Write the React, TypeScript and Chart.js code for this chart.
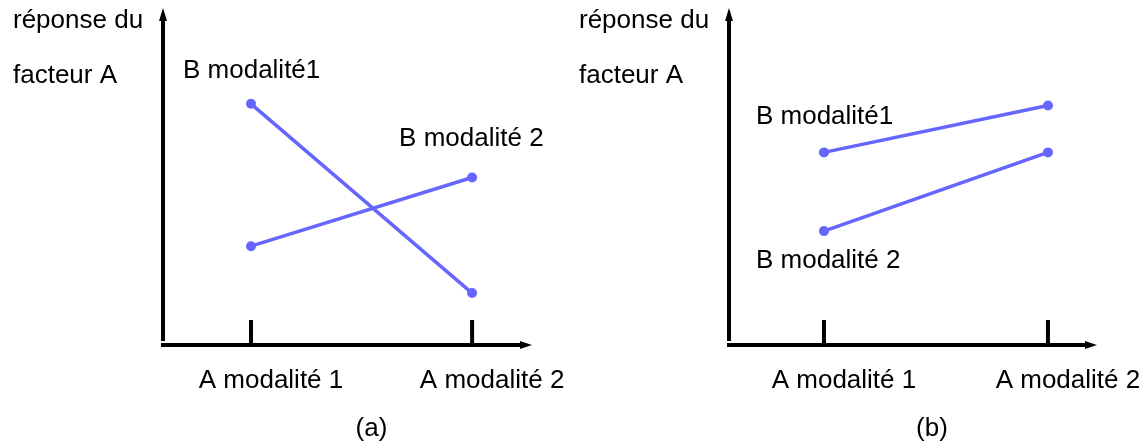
import React, { useEffect, useRef } from "react";
import { Chart, registerables } from "chart.js";

Chart.register(...registerables);

// ---- data ----
const CATEGORIES = ["A modalité 1", "A modalité 2"];
const X_VALUES = [1, 2];
const SERIES_LABELS = ["B modalité1", "B modalité 2"];
const PANEL_A_B1 = [7.2, 1.55];
const PANEL_A_B2 = [2.95, 5.0];
const PANEL_B_B1 = [5.75, 7.15];
const PANEL_B_B2 = [3.4, 5.75];
const Y_TITLE_LINES = ["réponse du", "facteur A"];
const CAPTIONS = ["(a)", "(b)"];

const FONT = '26px "Liberation Sans", Arial, sans-serif';
const LINE_COLOR = "#6666ff";

type LabelAnchor = { series: number; point: number; dx: number; dy: number };

type PanelSpec = {
  left: number;
  b1: number[];
  b2: number[];
  caption: string;
  captionDx: number;
  padding: { left: number; right: number; top: number; bottom: number };
  xMin: number;
  xMax: number;
  anchors: LabelAnchor[];
};

const PANELS: PanelSpec[] = [
  {
    left: 0,
    b1: PANEL_A_B1,
    b2: PANEL_A_B2,
    caption: CAPTIONS[0],
    captionDx: 24,
    padding: { left: 163, right: 42, top: 10, bottom: 102 },
    xMin: 0.602,
    xMax: 2.271,
    anchors: [
      { series: 0, point: 0, dx: -68, dy: -26 },
      { series: 1, point: 1, dx: -73, dy: -32 },
    ],
  },
  {
    left: 574,
    b1: PANEL_B_B1,
    b2: PANEL_B_B2,
    caption: CAPTIONS[1],
    captionDx: 19,
    padding: { left: 155, right: 51, top: 10, bottom: 102 },
    xMin: 0.576,
    xMax: 2.219,
    anchors: [
      { series: 0, point: 0, dx: -68, dy: -28 },
      { series: 1, point: 0, dx: -68, dy: 37 },
    ],
  },
];

function makeDecor(spec: PanelSpec) {
  return {
    id: "decor",
    beforeDatasetsDraw(chart: any) {
      const ctx: CanvasRenderingContext2D = chart.ctx;
      const { left, right, top, bottom } = chart.chartArea;
      const xs = chart.scales.x;
      ctx.save();
      ctx.strokeStyle = "#000";
      ctx.fillStyle = "#000";
      ctx.lineWidth = 4;
      ctx.lineCap = "butt";
      // y axis
      ctx.beginPath();
      ctx.moveTo(left, bottom - 4);
      ctx.lineTo(left, top + 9);
      ctx.stroke();
      ctx.beginPath();
      ctx.moveTo(left, top - 2);
      ctx.lineTo(left - 4, top + 11);
      ctx.lineTo(left + 4, top + 11);
      ctx.closePath();
      ctx.fill();
      // x axis
      ctx.beginPath();
      ctx.moveTo(left - 2, bottom);
      ctx.lineTo(right - 9, bottom);
      ctx.stroke();
      ctx.beginPath();
      ctx.moveTo(right, bottom);
      ctx.lineTo(right - 12, bottom - 4);
      ctx.lineTo(right - 12, bottom + 4);
      ctx.closePath();
      ctx.fill();
      // ticks
      X_VALUES.forEach((v) => {
        const px = xs.getPixelForValue(v);
        ctx.beginPath();
        ctx.moveTo(px, bottom - 25);
        ctx.lineTo(px, bottom);
        ctx.stroke();
      });
      ctx.restore();
    },
    afterDraw(chart: any) {
      const ctx: CanvasRenderingContext2D = chart.ctx;
      const { left, right, bottom } = chart.chartArea;
      const xs = chart.scales.x;
      ctx.save();
      ctx.fillStyle = "#000";
      ctx.font = FONT;
      ctx.textBaseline = "alphabetic";
      // y title
      ctx.textAlign = "left";
      ctx.fillText(Y_TITLE_LINES[0], left - 150, 28);
      ctx.fillText(Y_TITLE_LINES[1], left - 150, 83);
      // category labels
      ctx.textAlign = "center";
      CATEGORIES.forEach((c, i) => {
        ctx.fillText(c, xs.getPixelForValue(X_VALUES[i]) + 20, bottom + 43);
      });
      // caption
      ctx.fillText(spec.caption, (left + right) / 2 + spec.captionDx, bottom + 91);
      // series labels
      ctx.textAlign = "left";
      spec.anchors.forEach((a) => {
        const el = chart.getDatasetMeta(a.series).data[a.point];
        ctx.fillText(SERIES_LABELS[a.series], el.x + a.dx, el.y + a.dy);
      });
      ctx.restore();
    },
  };
}

function Panel({ spec }: { spec: PanelSpec }) {
  const ref = useRef<HTMLCanvasElement | null>(null);
  useEffect(() => {
    if (!ref.current) return;
    const series = [spec.b1, spec.b2];
    const chart = new Chart(ref.current, {
      type: "scatter",
      data: {
        datasets: series.map((vals, si) => ({
          label: SERIES_LABELS[si],
          data: vals.map((y, i) => ({ x: X_VALUES[i], y })),
          showLine: true,
          borderColor: LINE_COLOR,
          backgroundColor: LINE_COLOR,
          borderWidth: 3.5,
          pointRadius: 5,
          pointBorderWidth: 0,
          pointBackgroundColor: LINE_COLOR,
        })),
      },
      options: {
        animation: false,
        responsive: false,
        maintainAspectRatio: false,
        devicePixelRatio: 1,
        layout: { padding: spec.padding },
        plugins: { legend: { display: false }, tooltip: { enabled: false } },
        scales: {
          x: { type: "linear", min: spec.xMin, max: spec.xMax, display: false },
          y: { type: "linear", min: 0, max: 10, display: false },
        },
      },
      plugins: [makeDecor(spec)],
    } as any);
    return () => chart.destroy();
  }, [spec]);
  return (
    <canvas
      ref={ref}
      width={574}
      height={447}
      style={{ position: "absolute", left: spec.left, top: 0, width: 574, height: 447 }}
    />
  );
}

export default function App() {
  return (
    <div
      style={{
        position: "fixed",
        left: 0,
        top: 0,
        width: 1148,
        height: 447,
        background: "#fff",
        overflow: "hidden",
      }}
    >
      {PANELS.map((p, i) => (
        <Panel key={i} spec={p} />
      ))}
    </div>
  );
}
